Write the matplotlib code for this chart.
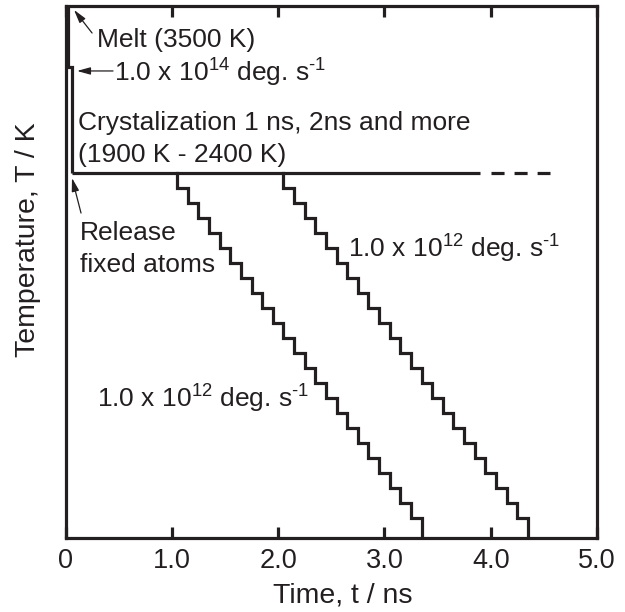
import matplotlib
matplotlib.use("Agg")
import matplotlib.pyplot as plt

plt.rcParams['font.family'] = ['Liberation Sans', 'DejaVu Sans']
plt.rcParams['mathtext.fontset'] = 'custom'
plt.rcParams['mathtext.rm'] = 'Liberation Sans'
plt.rcParams['mathtext.it'] = 'Liberation Sans:italic'
plt.rcParams['mathtext.default'] = 'regular'
plt.rcParams['lines.scale_dashes'] = False

INK = '#231f20'

# ---- data (time in ns, temperature in K; schematic) ----
melt_t = [0.026, 0.026, 0.058, 0.058]
melt_T = [3513, 3107, 3107, 2400]

hold_t = [0.058, 3.90]
hold_T = [2400, 2400]
hold_ext_t = [4.005, 4.558]
hold_ext_T = [2400, 2400]

stair1_t = [1.05, 1.05, 1.15, 1.25, 1.35, 1.45, 1.55, 1.65, 1.75, 1.85, 1.95, 2.05,
            2.15, 2.25, 2.35, 2.45, 2.55, 2.65, 2.75, 2.85, 2.95, 3.05, 3.15, 3.25, 3.35, 3.35]
stair2_t = [2.05, 2.05, 2.15, 2.25, 2.35, 2.45, 2.55, 2.65, 2.75, 2.85, 2.95, 3.05,
            3.15, 3.25, 3.35, 3.45, 3.55, 3.65, 3.75, 3.85, 3.95, 4.05, 4.15, 4.25, 4.35, 4.35]
stair_T = [2400, 2300, 2200, 2100, 2000, 1900, 1800, 1700, 1600, 1500, 1400, 1300,
           1200, 1100, 1000, 900, 800, 700, 600, 500, 400, 300, 200, 100, 0, -100]

x_ticks = [0, 1, 2, 3, 4, 5]
x_ticklabels = ['0', '1.0', '2.0', '3.0', '4.0', '5.0']

fig = plt.figure(figsize=(6.25, 6.12), dpi=100)
ax = fig.add_axes([65.5 / 625, (612 - 538) / 612, (597 - 65.5) / 625, (538 - 6) / 612])
ax.set_xlim(0, 5)
ax.set_ylim(-33, 3513)

LW = 2.3
ax.plot(melt_t, melt_T, color=INK, lw=LW, solid_joinstyle='miter', solid_capstyle='butt')
ax.plot(hold_t, hold_T, color=INK, lw=LW, solid_capstyle='butt')
ax.plot(hold_ext_t, hold_ext_T, color=INK, lw=LW, linestyle=(0, (9.4, 7.2)), dash_capstyle='butt')
ax.plot(stair1_t, stair_T, color=INK, lw=LW, drawstyle='steps-post', solid_joinstyle='miter')
ax.plot(stair2_t, stair_T, color=INK, lw=LW, drawstyle='steps-post', solid_joinstyle='miter')

FS = 19
txt = dict(fontsize=FS, color=INK, va='baseline', ha='left')
ax.text(0.296, 3240, 'Melt (3500 K)', **txt)
ax.text(0.456, 3007, r'1.0 x 10$^{14}$ deg. s$^{\text{-}1}$', **txt)
ax.text(0.118, 2687, 'Crystalization 1 ns, 2ns and more', **txt)
ax.text(0.118, 2473, '(1900 K - 2400 K)', **txt)
ax.text(0.136, 1953, 'Release', **txt)
ax.text(0.136, 1740, 'fixed atoms', **txt)
ax.text(2.657, 1833, r'1.0 x 10$^{12}$ deg. s$^{\text{-}1}$', **txt)
ax.text(0.296, 833, r'1.0 x 10$^{12}$ deg. s$^{\text{-}1}$', **txt)

arr = dict(arrowstyle='-|>,head_length=0.8,head_width=0.22', lw=0.9, color=INK,
           shrinkA=0, shrinkB=0, mutation_scale=10)
ax.annotate('', xy=(0.08, 3487), xytext=(0.25, 3333), arrowprops=arr)
ax.annotate('', xy=(0.108, 3080), xytext=(0.447, 3080), arrowprops=arr)
ax.annotate('', xy=(0.061, 2367), xytext=(0.146, 2133), arrowprops=arr)

for s in ax.spines.values():
    s.set_linewidth(LW)
    s.set_color(INK)

ax.set_xticks(x_ticks)
ax.set_xticklabels(x_ticklabels)
ax.tick_params(axis='x', direction='in', length=8, width=LW, color=INK, top=True,
               labelsize=19.5, labelcolor=INK, pad=7)
ax.set_yticks([])

ax.set_xlabel('Time, t / ns', fontsize=20.5, color=INK, labelpad=6)
ax.xaxis.label.set_x((343 - 65.5) / (597 - 65.5))
fig.text(28 / 625, (612 - 240) / 612, 'Temperature, T / K', rotation=90, fontsize=20.5,
         color=INK, ha='center', va='center')

fig.savefig('out.png', dpi=100)
